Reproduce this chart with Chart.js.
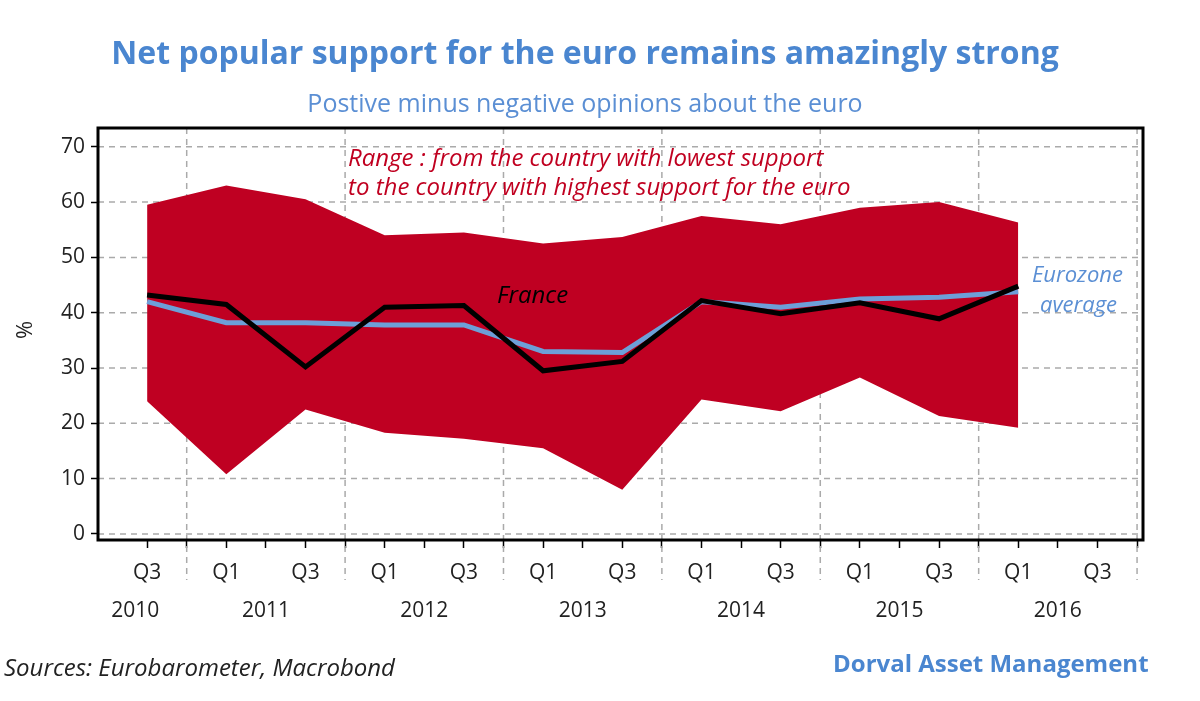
<!DOCTYPE html>
<html>
<head>
<meta charset="utf-8">
<script src="https://cdn.jsdelivr.net/npm/chart.js@4/dist/chart.umd.min.js"></script>
<style>
  body { margin: 0; background: #fff; font-family: "Open Sans", sans-serif; }
  #wrap { position: relative; width: 1200px; height: 701px; }
  canvas { position: absolute; left: 0; top: 0; }
  .t { position: absolute; white-space: nowrap; }
</style>
</head>
<body>
<div id="wrap">
  <canvas id="chart" width="1200" height="701"></canvas>
  <div class="t" style="left:0;width:1170px;top:30px;text-align:center;font-size:32px;font-weight:bold;color:#4a86d0;">Net popular support for the euro remains amazingly strong</div>
  <div class="t" style="left:0;width:1170px;top:85px;text-align:center;font-size:25px;color:#5b8fd4;">Postive minus negative opinions about the euro</div>
  <div class="t" style="left:4px;top:650px;font-size:24px;font-style:italic;color:#222;">Sources: Eurobarometer, Macrobond</div>
  <div class="t" style="left:833px;top:646px;font-size:24px;font-weight:bold;color:#4a86d0;">Dorval Asset Management</div>
</div>
<script>
// quarter index 0 = Q3 2010, one point every half year
const pointIdx = [0, 2, 4, 6, 8, 10, 12, 14, 16, 18, 20, 22];
const rangeHigh = [59.5, 63, 60.5, 54, 54.5, 52.5, 53.7, 57.5, 56, 59, 60, 56.3];
const rangeLow = [24, 10.8, 22.5, 18.3, 17.2, 15.5, 8, 24.3, 22.2, 28.3, 21.3, 19.2];
const france = [43.2, 41.5, 30.2, 41, 41.3, 29.5, 31.2, 42.2, 39.8, 41.8, 38.9, 44.8];
const eurozone = [42, 38.2, 38.2, 37.8, 37.8, 33, 32.8, 42, 41, 42.5, 42.8, 43.8];
const quarterLabels = ["Q3", "Q1", "Q3", "Q1", "Q3", "Q1", "Q3", "Q1", "Q3", "Q1", "Q3", "Q1", "Q3"];
const years = ["2010", "2011", "2012", "2013", "2014", "2015", "2016"];
const yearPos = [-0.3, 3, 7, 11, 15, 19, 23];
const yearLines = [1, 5, 9, 13, 17, 21, 25];
const yTicks = [0, 10, 20, 30, 40, 50, 60, 70];

const pts = arr => arr.map((v, i) => ({ x: pointIdx[i], y: v }));

const framePlugin = {
  id: "frame",
  beforeDatasetsDraw(chart) {
    const { ctx, chartArea: a, scales: { x, y } } = chart;
    ctx.save();
    ctx.strokeStyle = "#aaa";
    ctx.lineWidth = 1.5;
    ctx.setLineDash([6, 5]);
    yTicks.forEach(v => {
      const py = y.getPixelForValue(v);
      ctx.beginPath(); ctx.moveTo(a.left, py); ctx.lineTo(a.right, py); ctx.stroke();
    });
    yearLines.forEach(v => {
      const px = x.getPixelForValue(v);
      ctx.beginPath(); ctx.moveTo(px, a.top); ctx.lineTo(px, a.bottom + 40); ctx.stroke();
    });
    ctx.restore();
  },
  afterDraw(chart) {
    const { ctx, chartArea: a, scales: { x } } = chart;
    ctx.save();
    ctx.strokeStyle = "#000";
    ctx.lineWidth = 3;
    ctx.strokeRect(a.left, a.top, a.right - a.left, a.bottom - a.top);
    ctx.fillStyle = "#222";
    ctx.font = "21px 'Open Sans'";
    ctx.textAlign = "center";
    years.forEach((t, i) => ctx.fillText(t, x.getPixelForValue(yearPos[i]), 617));
    ctx.font = "italic 24px 'Open Sans'";
    ctx.textAlign = "left";
    ctx.fillStyle = "#c00020";
    ctx.fillText("Range : from the country with lowest support", 348, 166);
    ctx.fillText("to the country with highest support for the euro", 348, 195);
    ctx.fillStyle = "#000";
    ctx.fillText("France", 497, 303);
    ctx.fillStyle = "#5b8fd4";
    ctx.font = "italic 22px 'Open Sans'";
    ctx.fillText("Eurozone", 1032, 282);
    ctx.fillText("average", 1040, 312);
    ctx.save();
    ctx.translate(32, 330);
    ctx.rotate(-Math.PI / 2);
    ctx.textAlign = "center";
    ctx.fillStyle = "#222";
    ctx.font = "22px 'Open Sans'";
    ctx.fillText("%", 0, 0);
    ctx.restore();
    ctx.restore();
  }
};

new Chart(document.getElementById("chart"), {
  type: "line",
  data: {
    datasets: [
      { data: pts(rangeLow), borderWidth: 0, pointRadius: 0, fill: false, tension: 0, order: 4 },
      { data: pts(rangeHigh), borderWidth: 0, pointRadius: 0, fill: "-1", backgroundColor: "#bf0022", tension: 0, order: 3 },
      { data: pts(eurozone), borderColor: "#6d9fd8", borderWidth: 5, pointRadius: 0, fill: false, order: 1 },
      { data: pts(france), borderColor: "#000", borderWidth: 5, pointRadius: 0, fill: false, order: 0 }
    ]
  },
  options: {
    responsive: false,
    animation: false,
    layout: { padding: { left: 0, right: 57, top: 128, bottom: 51 } },
    plugins: { legend: { display: false }, tooltip: { enabled: false } },
    scales: {
      x: {
        type: "linear",
        min: -1.24,
        max: 25.15,
        afterBuildTicks: s => { s.ticks = Array.from({ length: 26 }, (_, i) => ({ value: i })); },
        afterFit: s => { s.height = 110; },
        grid: { drawOnChartArea: false, tickLength: 8, tickColor: "#000", tickWidth: 1.5 },
        border: { display: false },
        ticks: {
          autoSkip: false,
          maxRotation: 0,
          color: "#222",
          font: { family: "Open Sans", size: 21 },
          padding: 12,
          callback: v => (v % 2 === 0 ? quarterLabels[v / 2] : "")
        }
      },
      y: {
        min: -1.1,
        max: 73.4,
        afterBuildTicks: s => { s.ticks = yTicks.map(v => ({ value: v })); },
        afterFit: s => { s.width = 98; },
        grid: { drawOnChartArea: false, tickLength: 7, tickColor: "#000", tickWidth: 1.5 },
        border: { display: false },
        ticks: { color: "#222", font: { family: "Open Sans", size: 21 }, padding: 6 }
      }
    }
  },
  plugins: [framePlugin]
});
</script>
</body>
</html>
